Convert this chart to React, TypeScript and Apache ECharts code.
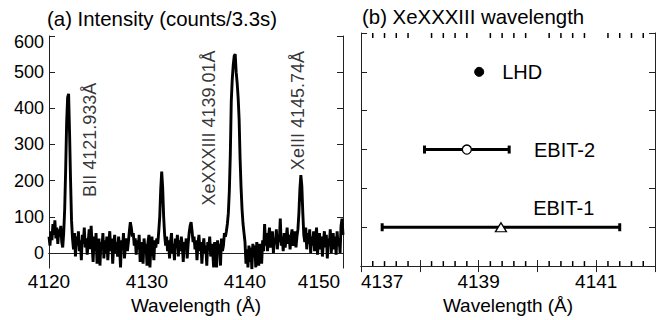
import React, { useEffect, useRef } from 'react';
import * as echarts from 'echarts';

// ---------- Panel (a): spectrum ----------
const WL_START = 4120;
const WL_STEP = 0.1;
// intensity (counts / 3.3 s), one value every 0.1 Å from 4120.0 to 4150.0
const intensity: number[] = [
  45, 20, 60, 35, 80, 50, 90, 40, 70, 25, // 4120
  65, 45, 75, 30, 15, 55, 120, 230, 360, 430, // 4121
  440, 330, 200, 90, 40, 10, 55, -10, 45, 20, // 4122
  60, 5, 35, -20, 50, 25, 70, 15, 40, -5, // 4123
  30, 65, 10, 75, 20, -25, 45, 5, 55, -30, // 4124
  20, 40, -35, 30, 10, 55, -15, 35, 0, 45, // 4125
  -20, 25, 60, 5, 40, -30, 20, 50, 0, 30, // 4126
  -10, 45, 15, -40, 35, 10, 55, -15, 20, 40, // 4127
  5, 30, 60, 85, 70, 45, 55, 20, 40, -5, // 4128
  35, 10, 50, -25, 30, 15, -30, 40, 5, 25, // 4129
  -35, 30, 50, -40, 20, 45, 10, -20, 35, 15, // 4130
  40, 25, 60, 100, 175, 225, 180, 100, 50, 20, // 4131
  45, 5, 35, -15, 30, 55, 0, 25, -20, 40, // 4132
  15, 50, -10, 35, 5, 45, 20, -25, 30, 10, // 4133
  40, -15, 25, 55, 75, 85, 60, 30, 45, 10, // 4134
  35, -20, 25, 50, 5, 30, -30, 15, 40, 0, // 4135
  20, -35, 30, 10, 45, -10, 25, 5, -40, 30, // 4136
  10, -40, 35, 0, 25, -35, 40, 5, 20, 55, // 4137
  45, 60, 80, 110, 170, 270, 420, 480, 520, 545, // 4138
  550, 500, 470, 430, 370, 260, 180, 120, 80, 55, // 4139
  30, -30, 10, -40, 20, -25, 15, -45, 25, -10, // 4140
  20, -40, 30, 0, -35, 25, 10, -30, 35, 5, // 4141
  80, 20, 55, 5, 45, 70, 15, 35, 60, 0, // 4142
  40, 25, 65, 10, 50, 30, 95, 20, 45, 5, // 4143
  55, 15, 40, 70, 25, 50, 10, 45, 65, 20, // 4144
  35, 60, 15, 45, 65, 110, 175, 215, 185, 110, // 4145
  50, 30, 70, 10, 55, 25, 65, 0, 45, 20, // 4146
  60, 5, 40, 70, -5, 35, 55, 10, 45, -10, // 4147
  30, 60, 15, 50, -15, 40, 20, 65, 0, 35, // 4148
  55, 10, 45, -5, 60, 20, 40, 0, 75, 95, // 4149
  50, // 4150
];
const yTicksA = [0, 100, 200, 300, 400, 500, 600];
const peakNames = ['BII 4121.933Å', 'XeXXXIII 4139.01Å', 'XeIII 4145.74Å'];
const peakLabelWl = [4124.18, 4136.33, 4145.4];
const peakLabelY = [155, 131, 229];

// ---------- Panel (b): XeXXXIII wavelength ----------
const sources = ['LHD', 'EBIT-2', 'EBIT-1'];
const sourceWl = [4139.01, 4138.8, 4139.38];
const sourceErr = [0, 0.72, 2.02];
const sourceRow = [5, 3, 1];
const ROW_MIN = 0;
const ROW_MAX = 6;
const WL_B_MIN = 4137;
const WL_B_MAX = 4142;
// minor tick positions (every 0.2 Å) on the wavelength axis of panel (b)
const minorTicksB = [
  4137.2, 4137.4, 4137.6, 4137.8,
  4138.2, 4138.4, 4138.6, 4138.8,
  4139.2, 4139.4, 4139.6, 4139.8,
  4140.2, 4140.4, 4140.6, 4140.8,
  4141.2, 4141.4, 4141.6, 4141.8,
];

const FONT = "'Liberation Sans', Arial, Helvetica, sans-serif";
const AX = '#222';
const TXT = '#000';

function buildOption(): any {
  const spectrum = intensity.map((v, i) => [+(WL_START + i * WL_STEP).toFixed(1), v]);

  const axisLineStyle = { show: true, lineStyle: { color: AX, width: 1 } };
  const tickStyle = { color: AX, width: 1 };

  const symbols = [
    { symbol: 'circle', symbolSize: 9, itemStyle: { color: '#000', borderColor: '#000', borderWidth: 1, opacity: 1 }, label: { position: 'right', distance: 18 } },
    { symbol: 'circle', symbolSize: 9, itemStyle: { color: '#fff', borderColor: '#000', borderWidth: 1.3, opacity: 1 }, label: { position: 'right', distance: 62 } },
    { symbol: 'triangle', symbolSize: [11, 9], itemStyle: { color: '#fff', borderColor: '#000', borderWidth: 1.3, opacity: 1 }, label: { position: 'right', distance: 26, offset: [0, -19] } },
  ];

  const titleStyle = { fontFamily: FONT, fontSize: 20.4, fontWeight: 'normal', color: TXT };

  const minorTickMarks: any[] = [];
  minorTicksB.forEach((t) => {
    minorTickMarks.push({ value: [t, ROW_MIN], symbolOffset: [0, -2.5] });
    minorTickMarks.push({ value: [t, ROW_MAX], symbolOffset: [0, 2.5] });
  });

  return {
    animation: false,
    backgroundColor: '#fff',
    title: [
      { text: '(a) Intensity (counts/3.3s)', left: 47, top: 9, padding: 0, textStyle: titleStyle },
      { text: '(b) XeXXXIII wavelength', left: 362, top: 7, padding: 0, textStyle: titleStyle },
    ],
    grid: [
      { left: 49, top: 36, width: 294, height: 234 },
      { left: 361, top: 33, width: 294, height: 235 },
    ],
    xAxis: [
      {
        gridIndex: 0, type: 'value', position: 'bottom', min: 4120, max: 4150, interval: 10,
        axisLine: axisLineStyle, splitLine: { show: false },
        axisTick: { show: true, inside: true, length: 5, lineStyle: tickStyle },
        axisLabel: {
          fontFamily: FONT, fontSize: 19, color: TXT, margin: 4,
          formatter: (v: number) => (v === 4150 ? '{r|4150}' : String(v)),
          rich: { r: { fontFamily: FONT, fontSize: 19, color: TXT, padding: [0, 48, 0, 0] } },
        },
        name: 'Wavelength (Å)', nameLocation: 'middle', nameGap: 21,
        nameTextStyle: { fontFamily: FONT, fontSize: 19, color: TXT },
      },
      {
        gridIndex: 0, type: 'value', position: 'top', min: 4120, max: 4150, interval: 10,
        axisLine: axisLineStyle, splitLine: { show: false },
        axisTick: { show: true, inside: true, length: 5, lineStyle: tickStyle },
        axisLabel: { show: false },
      },
      {
        gridIndex: 1, type: 'value', position: 'bottom', min: WL_B_MIN, max: WL_B_MAX, interval: 1,
        axisLine: axisLineStyle, splitLine: { show: false },
        axisTick: { show: true, inside: true, length: 6, lineStyle: tickStyle },
        axisLabel: {
          fontFamily: FONT, fontSize: 19, color: TXT, margin: 6, alignMinLabel: 'left',
          formatter: (v: number) => ((Math.round(v) - WL_B_MIN) % 2 === 0 && v < WL_B_MAX ? String(v) : ''),
        },
        name: 'Wavelength (Å)', nameLocation: 'middle', nameGap: 24,
        nameTextStyle: { fontFamily: FONT, fontSize: 19, color: TXT },
      },
      {
        gridIndex: 1, type: 'value', position: 'top', min: WL_B_MIN, max: WL_B_MAX, interval: 1,
        axisLine: axisLineStyle, splitLine: { show: false },
        axisTick: { show: true, inside: true, length: 6, lineStyle: tickStyle },
        axisLabel: { show: false },
      },
    ],
    yAxis: [
      {
        gridIndex: 0, type: 'value', position: 'left', min: -42, max: 600,
        axisLine: axisLineStyle, splitLine: { show: false },
        axisTick: { show: true, inside: true, length: 6, lineStyle: tickStyle, customValues: yTicksA },
        axisLabel: {
          fontFamily: FONT, fontSize: 18, color: TXT, margin: 5, customValues: yTicksA,
          formatter: (v: number) => (v === 600 ? '{t|600}' : String(v)),
          rich: { t: { fontFamily: FONT, fontSize: 18, color: TXT, padding: [11, 0, 0, 0] } },
        },
      },
      {
        gridIndex: 0, type: 'value', position: 'right', min: -42, max: 600,
        axisLine: axisLineStyle, splitLine: { show: false },
        axisTick: { show: true, inside: true, length: 6, lineStyle: tickStyle, customValues: yTicksA },
        axisLabel: { show: false },
      },
      {
        gridIndex: 1, type: 'value', position: 'left', min: ROW_MIN, max: ROW_MAX, interval: 1,
        axisLine: axisLineStyle, splitLine: { show: false },
        axisTick: { show: true, inside: true, length: 6, lineStyle: tickStyle },
        axisLabel: { show: false },
      },
      {
        gridIndex: 1, type: 'value', position: 'right', min: ROW_MIN, max: ROW_MAX, interval: 1,
        axisLine: axisLineStyle, splitLine: { show: false },
        axisTick: { show: true, inside: true, length: 6, lineStyle: tickStyle },
        axisLabel: { show: false },
      },
    ],
    series: [
      {
        type: 'line', name: 'spectrum', xAxisIndex: 0, yAxisIndex: 0,
        data: spectrum, showSymbol: false, symbol: 'none',
        lineStyle: { color: '#000', width: 2.9, join: 'miter', miterLimit: 3 }, z: 3, clip: true,
      },
      {
        type: 'scatter', name: 'peak labels', xAxisIndex: 0, yAxisIndex: 0,
        symbolSize: 0, silent: true, z: 4,
        data: peakNames.map((n, i) => ({ name: n, value: [peakLabelWl[i], peakLabelY[i]] })),
        label: {
          show: true, formatter: '{b}', rotate: 90, position: 'inside',
          align: 'left', verticalAlign: 'middle',
          fontFamily: FONT, fontSize: 18, color: TXT,
        },
      },
      {
        type: 'scatter', name: 'minor ticks', xAxisIndex: 2, yAxisIndex: 2, z: 6,
        silent: true, clip: false, symbol: 'rect', symbolSize: [1.5, 5],
        itemStyle: { color: '#000', opacity: 1 },
        data: minorTickMarks,
      },
      {
        type: 'custom', name: 'error bars', xAxisIndex: 2, yAxisIndex: 2, z: 3,
        data: sources.map((_, i) => [sourceWl[i], sourceErr[i], sourceRow[i]]),
        encode: { x: 0, y: 2 },
        renderItem: (params: any, api: any) => {
          const x = api.value(0);
          const e = api.value(1);
          const r = api.value(2);
          if (!e) return { type: 'group', children: [] };
          const p1 = api.coord([x - e, r]);
          const p2 = api.coord([x + e, r]);
          const st = { stroke: '#000', lineWidth: 3 };
          return {
            type: 'group',
            children: [
              { type: 'line', shape: { x1: p1[0], y1: p1[1], x2: p2[0], y2: p2[1] }, style: st },
              { type: 'line', shape: { x1: p1[0], y1: p1[1] - 4, x2: p1[0], y2: p1[1] + 4 }, style: st },
              { type: 'line', shape: { x1: p2[0], y1: p2[1] - 4, x2: p2[0], y2: p2[1] + 4 }, style: st },
            ],
          };
        },
      },
      {
        type: 'scatter', name: 'sources', xAxisIndex: 2, yAxisIndex: 2, z: 5,
        itemStyle: { opacity: 1 },
        data: sources.map((n, i) => ({
          name: n,
          value: [sourceWl[i], sourceRow[i]],
          symbol: symbols[i].symbol,
          symbolSize: symbols[i].symbolSize,
          itemStyle: symbols[i].itemStyle,
          label: { show: true, formatter: '{b}', fontFamily: FONT, fontSize: 20, color: TXT, ...symbols[i].label },
        })),
      },
    ],
  };
}

export default function App() {
  const ref = useRef<HTMLDivElement>(null);
  useEffect(() => {
    if (!ref.current) return;
    const chart = echarts.init(ref.current, null, { renderer: 'svg' });
    chart.setOption(buildOption());
    return () => chart.dispose();
  }, []);
  return (
    <div
      ref={ref}
      style={{ position: 'fixed', left: 0, top: 0, width: 658, height: 320, background: '#fff' }}
    />
  );
}
